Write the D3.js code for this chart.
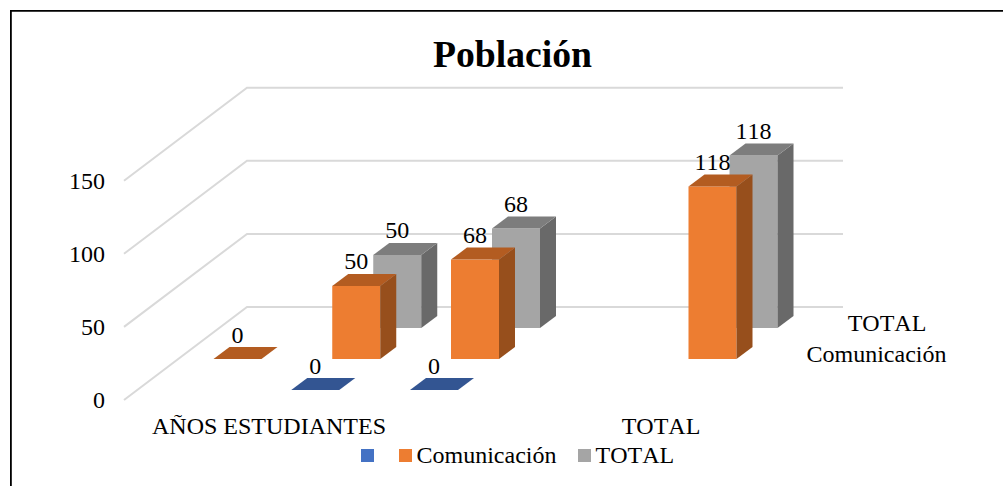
<!DOCTYPE html>
<html>
<head>
<meta charset="utf-8">
<style>
  html, body { margin: 0; padding: 0; background: #fff; }
  svg { display: block; }
  text { font-family: "Liberation Serif", serif; fill: #000; font-kerning: none; }
</style>
<script src="https://cdn.jsdelivr.net/npm/d3@7"></script>
</head>
<body>
<div id="graph-container"></div>
<script>
const title = "Población";
const categories = ["AÑOS ESTUDIANTES", "b", "c", "d", "TOTAL"];
const categoryLabels = ["AÑOS ESTUDIANTES", "TOTAL"];
const seriesNames = ["", "Comunicación", "TOTAL"];
const depthLabels = ["Comunicación", "TOTAL"];
const yTicks = [0, 50, 100, 150];

// null = nothing drawn for that category
const blueValues = [null, 0, 0, null, null];
const orangeValues = [0, 50, 68, null, 118];
const grayValues = [null, 50, 68, null, 118];

const width = 1003;
const height = 486;

const svg = d3
  .select("#graph-container")
  .append("svg")
  .attr("width", width)
  .attr("height", height);

// frame, left and top only, the right and bottom are cut off in the picture
svg
  .append("path")
  .attr("d", "M10.9,486V10.9H1003")
  .attr("fill", "none")
  .attr("stroke", "#000")
  .attr("stroke-width", 1.8);

const y = d3.scaleLinear().domain([0, 150]).range([0, 219.3]);
const x = d3
  .scalePoint()
  .domain(categories)
  .range([172.5, 647.5]);
const depth = d3
  .scalePoint()
  .domain(seriesNames)
  .range([0, 2]);

// floor corner of the front-left of the chart
const floorX = 124;
const floorY = 400;
const backX = 123;
const backY = 93;
const floorWidth = 596;

//draw grid
const grid = svg.append("g");
grid
  .selectAll("path")
  .data(yTicks)
  .enter()
  .append("path")
  .attr("fill", "none")
  .attr("stroke", "#d9d9d9")
  .attr("stroke-width", 2)
  .attr("d", (d) => {
    const yy = floorY - y(d);
    return `M${floorX},${yy}L${floorX + backX},${yy - backY}H${floorX + backX + floorWidth}`;
  });

svg
  .selectAll("text.tick")
  .data(yTicks)
  .enter()
  .append("text")
  .attr("class", "tick")
  .attr("x", 105)
  .attr("y", (d) => floorY - y(d) + 8)
  .attr("text-anchor", "end")
  .attr("font-size", 24)
  .text((d) => d);

const palette = [
  { front: "#4472c4", side: "#2a4a85", top: "#335592" },
  { front: "#ed7d31", side: "#974f1c", top: "#b35c21" },
  { front: "#a5a5a5", side: "#696969", top: "#7d7d7d" },
];

const barW = 48;
const sideX = 16;
const sideY = 12;
const seriesStepX = 41;
const seriesStepY = 31;

const bars = [];
[grayValues, orangeValues, blueValues].forEach((values, k) => {
  const s = 2 - k;
  values.forEach((v, i) => {
    if (v !== null) bars.push({ s, i, v });
  });
});

const barX = (d) => x(categories[d.i]) + depth(seriesNames[d.s]) * seriesStepX;
const barY = (d) => floorY - 10 - depth(seriesNames[d.s]) * seriesStepY;

const barG = svg
  .selectAll("g.bar")
  .data(bars)
  .enter()
  .append("g")
  .attr("class", "bar");

barG
  .append("rect")
  .attr("x", barX)
  .attr("y", (d) => barY(d) - y(d.v))
  .attr("width", barW)
  .attr("height", (d) => y(d.v))
  .attr("fill", (d) => palette[d.s].front);

barG
  .append("path")
  .attr("fill", (d) => palette[d.s].side)
  .attr("d", (d) => {
    const r = barX(d) + barW;
    const b = barY(d);
    const t = b - y(d.v);
    return `M${r},${b}V${t}l${sideX},${-sideY}V${b - sideY}Z`;
  });

barG
  .append("path")
  .attr("fill", (d) => palette[d.s].top)
  .attr("d", (d) => {
    const l = barX(d);
    const t = barY(d) - y(d.v);
    return `M${l},${t}h${barW}l${sideX},${-sideY}h${-barW}Z`;
  });

// labels go on top of every bar, the orange 118 overlaps the gray one
svg
  .selectAll("text.value")
  .data(bars)
  .enter()
  .append("text")
  .attr("class", "value")
  .attr("x", (d) => barX(d) + barW / 2)
  .attr("y", (d) => barY(d) - y(d.v) - 16.5)
  .attr("text-anchor", "middle")
  .attr("font-size", 24)
  .text((d) => d.v);

//title and axis labels
svg
  .append("text")
  .attr("x", 512.5)
  .attr("y", 67)
  .attr("text-anchor", "middle")
  .attr("font-size", 37.7)
  .attr("font-weight", "bold")
  .text(title);

svg
  .selectAll("text.cat")
  .data(categoryLabels)
  .enter()
  .append("text")
  .attr("class", "cat")
  .attr("x", (d, i) => [269, 661][i])
  .attr("y", 434)
  .attr("text-anchor", "middle")
  .attr("font-size", 24)
  .text((d) => d);

svg
  .selectAll("text.depth")
  .data(depthLabels)
  .enter()
  .append("text")
  .attr("class", "depth")
  .attr("x", (d, i) => [876.5, 887][i])
  .attr("y", (d, i) => [362, 331][i])
  .attr("text-anchor", "middle")
  .attr("font-size", 24)
  .text((d) => d);

//legend
const legendX = [361, 399, 578];
const legend = svg
  .selectAll("g.legend")
  .data(seriesNames)
  .enter()
  .append("g")
  .attr("class", "legend")
  .attr("transform", (d, i) => `translate(${legendX[i]},449)`);

legend
  .append("rect")
  .attr("width", 13)
  .attr("height", 13)
  .attr("fill", (d, i) => palette[i].front);

legend
  .append("text")
  .attr("x", 17.5)
  .attr("y", 13.5)
  .attr("font-size", 24)
  .text((d) => d);
</script>
</body>
</html>
